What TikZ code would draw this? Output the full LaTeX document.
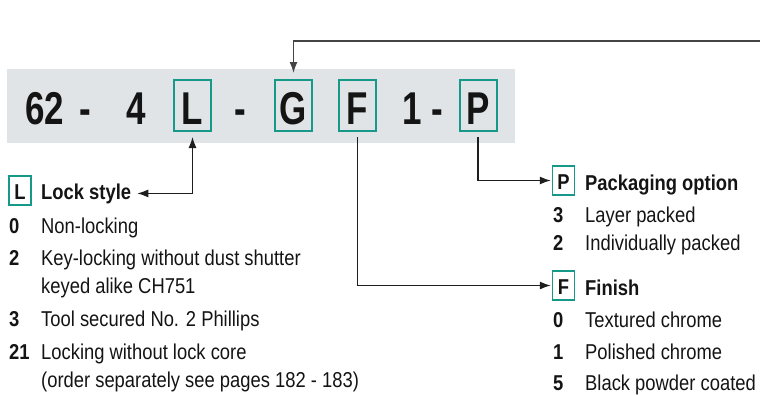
\documentclass[tikz,border=0pt]{standalone}
\usepackage{fontspec}
\setmainfont{Liberation Sans}
\newfontfamily\narrowfont[FakeStretch=0.855]{Liberation Sans}
\newfontfamily\codefont[FakeStretch=0.76]{Liberation Sans}
\usetikzlibrary{arrows.meta,positioning,calc}
\definecolor{darktext}{HTML}{141414}
\definecolor{codeband}{HTML}{E1E4E7}
\definecolor{codeteal}{HTML}{17998A}
\definecolor{leadline}{HTML}{1E1E1E}
\definecolor{topline} {HTML}{444444}
\tikzset{
  code/.style={font=\codefont\bfseries\fontsize{46}{46}\selectfont,text=darktext,anchor=base,inner sep=0pt},
  codebox/.style={code,anchor=center,draw=codeteal,line width=2pt,minimum width=37pt,minimum height=51pt,text height=37pt,text depth=0pt},
  head/.style={font=\narrowfont\bfseries\fontsize{21.5}{24}\selectfont,text=darktext,anchor=base west,inner sep=0pt},
  headbox/.style={head,anchor=center,draw=codeteal,line width=1.5pt,minimum width=22pt,minimum height=29pt,text height=17pt,text depth=0pt},
  desc/.style={font=\narrowfont\fontsize{21.5}{24}\selectfont,text=darktext,anchor=base west,inner sep=0pt},
  arr/.style={draw=leadline,line width=1.2pt,-{Latex[length=11pt,width=8pt]}},
  dblarr/.style={arr,{Latex[length=11pt,width=8pt]}-{Latex[length=11pt,width=8pt]}}
}
\begin{document}
\begin{tikzpicture}[x=1pt,y=-1pt]
\useasboundingbox(0,0)rectangle(760,394);
\fill[codeband](7,69)rectangle(515,143);
\node[code](c62)at(44.5,124){62};
\node[code](d1)at(85.5,124){-};
\node[code](c4)at(136.5,124){4};
\node[codebox](boxL)at(192.5,105.5){L};
\node[code](d2)at(240,124){-};
\node[codebox](boxG)at(293.5,105.5){G};
\node[codebox](boxF)at(357.5,105.5){F};
\node[code](c1)at(412,124){1};
\node[code](d3)at(437.5,124){-};
\node[codebox](boxP)at(478,105.5){P};
\node[headbox](hL)at(20,190.5){L};
\node[head](lockhd)at(41,199){Lock style};
\node[head](nL0)at(9,233){0};
\node[desc](tL0)at(41,233){Non-locking};
\node[head](nL2)at(9,265){2};
\node[desc](tL2)at(41,265){Key-locking without dust shutter};
\node[desc](tL2b)at(41,293){keyed alike CH751};
\node[head](nL3)at(9,326){3};
\node[desc](tL3)at(41,326){Tool secured No. 2 Phillips};
\node[head](nL21)at(9,359){21};
\node[desc](tL21)at(41,359){Locking without lock core};
\node[desc](tL21b)at(41,387){(order separately see pages 182 - 183)};
\node[headbox](hP)at(563.5,180.5){P};
\node[head](packhd)at(585,190){Packaging option};
\node[head](nP3)at(553,222){3};
\node[desc](tP3)at(585,222){Layer packed};
\node[head](nP2)at(553,250){2};
\node[desc](tP2)at(585,250){Individually packed};
\node[headbox](hF)at(563.5,285.5){F};
\node[head](finhd)at(585,295){Finish};
\node[head](nF0)at(553,327){0};
\node[desc](tF0)at(585,327){Textured chrome};
\node[head](nF1)at(553,359){1};
\node[desc](tF1)at(585,359){Polished chrome};
\node[head](nF5)at(553,390){5};
\node[desc](tF5)at(585,390){Black powder coated};
\coordinate(gsrc)at(760,41);
\draw[arr,draw=topline,line width=1.5pt](gsrc)-|([yshift=6pt]boxG.north);
\draw[dblarr]([xshift=6pt]lockhd.east)-|([yshift=-5pt]boxL.south);
\draw[arr]([yshift=-5pt]boxP.south)|-([xshift=-1pt]hP.west);
\draw[arr]([yshift=-5pt]boxF.south)|-([xshift=-1pt]hF.west);
\end{tikzpicture}
\end{document}
